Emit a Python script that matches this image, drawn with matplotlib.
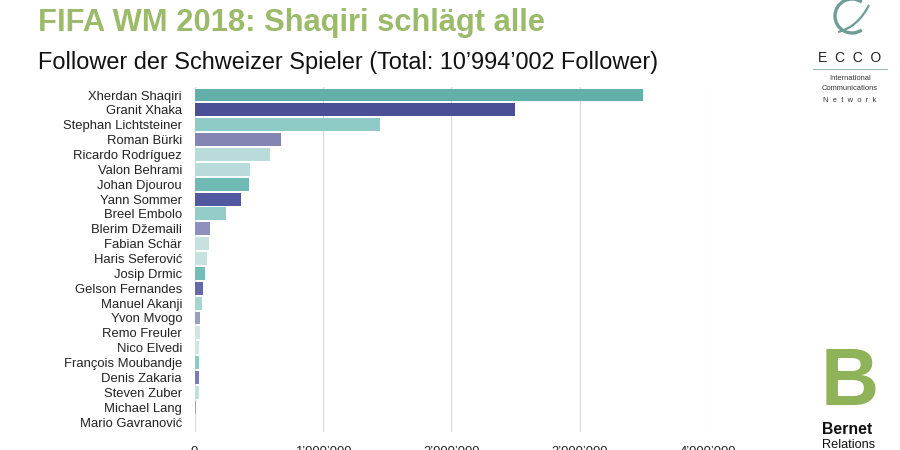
import matplotlib
matplotlib.use("Agg")
import matplotlib.pyplot as plt
from matplotlib.patches import Arc, PathPatch
from matplotlib.path import Path
from matplotlib.lines import Line2D

players = ["Xherdan Shaqiri", "Granit Xhaka", "Stephan Lichtsteiner", "Roman Bürki",
           "Ricardo Rodríguez", "Valon Behrami", "Johan Djourou", "Yann Sommer",
           "Breel Embolo", "Blerim Džemaili", "Fabian Schär", "Haris Seferović",
           "Josip Drmic", "Gelson Fernandes", "Manuel Akanji", "Yvon Mvogo",
           "Remo Freuler", "Nico Elvedi", "François Moubandje", "Denis Zakaria",
           "Steven Zuber", "Michael Lang", "Mario Gavranović"]
followers = [3496000, 2496000, 1447000, 672000, 586000, 435000, 420000, 362000,
             245000, 120000, 112000, 94000, 81000, 68000, 60000, 42000,
             40000, 35000, 32000, 32000, 32000, 13000, 6000]
bar_colors = ["#63b0aa", "#4b5096", "#8ecac6", "#8485b3", "#b9dcdb", "#b9dcdb",
              "#6fbab5", "#5258a0", "#93ccc8", "#8f90bd", "#c5e2df", "#c5e2df",
              "#74bdb7", "#6568ab", "#a8d5d1", "#9a9dbd", "#cfe6e4", "#cfe6e4",
              "#8fcbc5", "#7a7db5", "#bfe0dd", "#a0a0b8", "#d8d8e0"]
tick_values = [0, 1000000, 2000000, 3000000, 4000000]
tick_labels = ["0", "1’000’000", "2’000’000", "3’000’000", "4’000’000"]

title = "FIFA WM 2018: Shaqiri schlägt alle"
subtitle = "Follower der Schweizer Spieler (Total: 10’994’002 Follower)"

plt.rcParams['font.family'] = ['Liberation Sans', 'DejaVu Sans']

W, H = 900, 450
fig = plt.figure(figsize=(9, 4.5), dpi=100)
fig.patch.set_facecolor("white")

def fx(px):
    return px / W

def fy(py):
    return 1 - py / H

ax = fig.add_axes([fx(194.6), fy(432), fx(708) - fx(194.6), fy(87) - fy(432)])
ypos = list(range(len(players)))
ax.barh(ypos, followers, height=0.87, color=bar_colors, zorder=3)
ax.set_ylim(len(players) - 1 + 0.67, -0.54)
ax.set_xlim(0, 4000000)
ax.set_yticks(ypos)
ax.set_yticklabels(players, fontsize=9.4, color="#222222")
ax.set_xticks(tick_values)
ax.set_xticklabels(tick_labels, fontsize=9.4, color="#222222")
ax.tick_params(axis="both", length=0)
ax.tick_params(axis="y", pad=9)
ax.tick_params(axis="x", pad=10)
for s in ax.spines.values():
    s.set_visible(False)
ax.grid(axis="x", color="#d9d9d9", linewidth=0.8, zorder=0)
ax.set_axisbelow(True)

# Titles
fig.text(fx(38), fy(23), title, fontsize=22.2, fontweight="bold", color="#9bbb6b",
         ha="left", va="center")
fig.text(fx(38), fy(62), subtitle, fontsize=16.9, color="#111111",
         ha="left", va="center")

# Logos drawn in a pixel-coordinate overlay
logo_ax = fig.add_axes([0, 0, 1, 1], facecolor="none")
logo_ax.set_xlim(0, W)
logo_ax.set_ylim(H, 0)
logo_ax.axis("off")

# ECCO globe
logo_ax.add_patch(Arc((852, 16), 34, 34, angle=0, theta1=55, theta2=305,
                      color="#6e9d95", linewidth=2.4))
swoosh = Path([(838, 32), (858, 27), (869, 5)], [Path.MOVETO, Path.CURVE3, Path.CURVE3])
logo_ax.add_patch(PathPatch(swoosh, facecolor="none", edgecolor="#6e9d95", linewidth=1.6))
logo_ax.text(850, 58, "E  C  C  O", fontsize=10, color="#222222", ha="center", va="center")
logo_ax.add_line(Line2D([813, 887], [69, 69], color="#9cbdb6", linewidth=0.8))
logo_ax.text(850, 78, "International", fontsize=5.4, color="#333333", ha="center", va="center")
logo_ax.text(850, 89, "Communications", fontsize=5.4, color="#333333", ha="center", va="center")
logo_ax.text(850, 100, "N  e  t  w  o  r  k", fontsize=5.4, color="#333333", ha="center", va="center")

# Bernet logo
logo_ax.text(821, 405, "B", fontsize=58, fontweight="bold", color="#8fb358",
             ha="left", va="baseline")
logo_ax.text(822, 429, "Bernet", fontsize=11.4, fontweight="bold", color="#111111",
             ha="left", va="center")
logo_ax.text(822, 445, "Relations", fontsize=9.2, color="#111111",
             ha="left", va="center")

fig.savefig("out.png", dpi=100, facecolor="white")
